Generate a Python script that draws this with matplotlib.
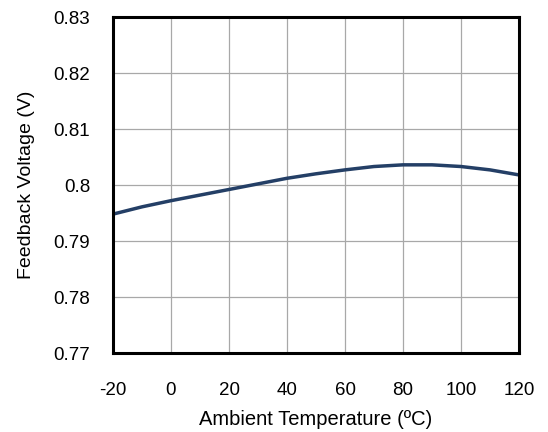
import matplotlib
matplotlib.use("Agg")
import matplotlib.pyplot as plt

temps = [-20, -10, 0, 10, 20, 30, 40, 50, 60, 70, 80, 90, 100, 110, 120]
vfb = [0.7948, 0.7961, 0.7972, 0.7982, 0.7992, 0.8002, 0.8012, 0.8020, 0.8027,
       0.8033, 0.8036, 0.8036, 0.8033, 0.8027, 0.8018]

xticks = [-20, 0, 20, 40, 60, 80, 100, 120]
yticks = [0.77, 0.78, 0.79, 0.80, 0.81, 0.82, 0.83]
ylabels = ["0.77", "0.78", "0.79", "0.8", "0.81", "0.82", "0.83"]

plt.rcParams["font.family"] = ["Liberation Sans", "DejaVu Sans"]
plt.rcParams["axes.unicode_minus"] = False

fig = plt.figure(figsize=(5.48, 4.32), dpi=100)
ax = fig.add_axes([113 / 548, 1 - 353 / 432, (519 - 113) / 548, (353 - 17) / 432])

ax.plot(temps, vfb, color="#243f66", linewidth=2.5, solid_capstyle="butt")

ax.set_xlim(-20, 120)
ax.set_ylim(0.77, 0.83)
ax.set_xticks(xticks)
ax.set_yticks(yticks)
ax.set_yticklabels(ylabels)
ax.tick_params(length=0, labelsize=13.5)
ax.tick_params(axis="y", pad=16.5)
ax.tick_params(axis="x", pad=21)
ax.grid(color="#a8a8a8", linewidth=0.9)
ax.set_axisbelow(True)
for s in ax.spines.values():
    s.set_linewidth(2.2)
    s.set_color("black")

ax.set_xlabel("Ambient Temperature (ºC)", fontsize=14.5, labelpad=8)
ax.set_ylabel("Feedback Voltage (V)", fontsize=14, labelpad=13)

fig.savefig("out.png", dpi=100)
